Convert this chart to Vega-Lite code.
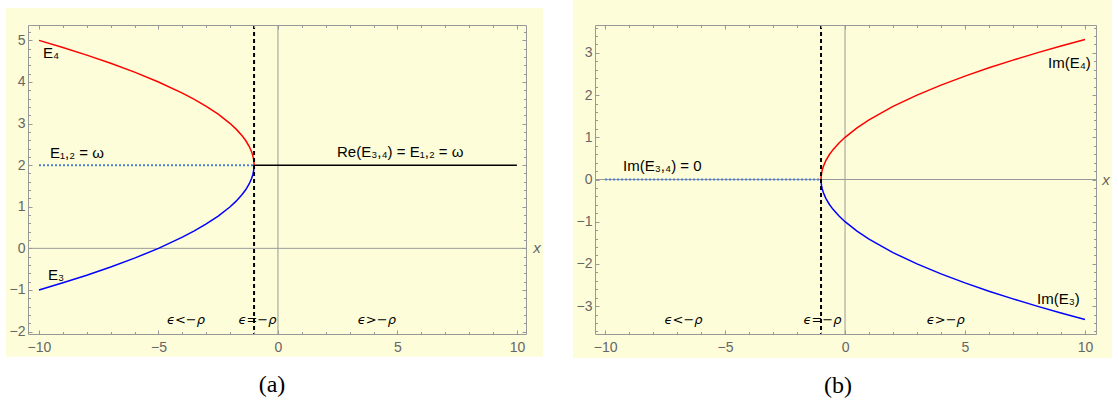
{
  "$schema": "https://vega.github.io/schema/vega-lite/v6.json",
  "background": "white",
  "padding": {"left": 6, "top": 0, "right": 0, "bottom": 0},
  "bounds": "flush",
  "spacing": 69,
  "config": {
    "view": {"stroke": null},
    "axis": {"domainColor": "#999999", "tickColor": "#999999", "labelColor": "#666666", "labelFont": "Liberation Sans", "labelFontSize": 14, "grid": false, "labelOverlap": false, "labelFlush": false, "labelBound": false},
    "text": {"font": "Liberation Sans"}
  },
  "datasets": {
    "one": [{}],
    "aE4": [{"x":-10,"y":5},{"x":-9,"y":4.828},{"x":-8,"y":4.646},{"x":-7,"y":4.449},{"x":-6,"y":4.236},{"x":-5,"y":4},{"x":-4,"y":3.732},{"x":-3.5,"y":3.581},{"x":-3,"y":3.414},{"x":-2.5,"y":3.225},{"x":-2,"y":3},{"x":-1.75,"y":2.866},{"x":-1.5,"y":2.707},{"x":-1.35,"y":2.592},{"x":-1.2,"y":2.447},{"x":-1.1,"y":2.316},{"x":-1.05,"y":2.224},{"x":-1.02,"y":2.141},{"x":-1.005,"y":2.071},{"x":-1,"y":2}],
    "aE3": [{"x":-10,"y":-1},{"x":-9,"y":-0.828},{"x":-8,"y":-0.646},{"x":-7,"y":-0.449},{"x":-6,"y":-0.236},{"x":-5,"y":0},{"x":-4,"y":0.268},{"x":-3.5,"y":0.419},{"x":-3,"y":0.586},{"x":-2.5,"y":0.775},{"x":-2,"y":1},{"x":-1.75,"y":1.134},{"x":-1.5,"y":1.293},{"x":-1.35,"y":1.408},{"x":-1.2,"y":1.553},{"x":-1.1,"y":1.684},{"x":-1.05,"y":1.776},{"x":-1.02,"y":1.859},{"x":-1.005,"y":1.929},{"x":-1,"y":2}],
    "aDot": [{"x":-10,"y":2},{"x":-1,"y":2}],
    "aRe": [{"x":-1,"y":2},{"x":10,"y":2}],
    "aLab": [{"x":-9.83,"y":4.69,"t":"E₄"},{"x":-9.54,"y":2.29,"t":"E₁,₂ = ω"},{"x":2.47,"y":2.31,"t":"Re(E₃,₄) = E₁,₂ = ω"},{"x":-9.62,"y":-0.64,"t":"E₃"}],
    "aEps": [{"x":-3.85,"y":-1.72,"t":"ϵ<−ρ"},{"x":-0.86,"y":-1.72,"t":"ϵ=−ρ"},{"x":4.14,"y":-1.72,"t":"ϵ>−ρ"}],
    "bE4": [{"x":-1,"y":0},{"x":-0.995,"y":0.071},{"x":-0.98,"y":0.141},{"x":-0.95,"y":0.224},{"x":-0.9,"y":0.316},{"x":-0.8,"y":0.447},{"x":-0.65,"y":0.592},{"x":-0.5,"y":0.707},{"x":-0.25,"y":0.866},{"x":0,"y":1},{"x":0.5,"y":1.225},{"x":1,"y":1.414},{"x":2,"y":1.732},{"x":3,"y":2},{"x":4,"y":2.236},{"x":5,"y":2.449},{"x":6,"y":2.646},{"x":7,"y":2.828},{"x":8,"y":3},{"x":9,"y":3.162},{"x":10,"y":3.317}],
    "bE3": [{"x":-1,"y":0},{"x":-0.995,"y":-0.071},{"x":-0.98,"y":-0.141},{"x":-0.95,"y":-0.224},{"x":-0.9,"y":-0.316},{"x":-0.8,"y":-0.447},{"x":-0.65,"y":-0.592},{"x":-0.5,"y":-0.707},{"x":-0.25,"y":-0.866},{"x":0,"y":-1},{"x":0.5,"y":-1.225},{"x":1,"y":-1.414},{"x":2,"y":-1.732},{"x":3,"y":-2},{"x":4,"y":-2.236},{"x":5,"y":-2.449},{"x":6,"y":-2.646},{"x":7,"y":-2.828},{"x":8,"y":-3},{"x":9,"y":-3.162},{"x":10,"y":-3.317}],
    "bDot": [{"x":-10,"y":0},{"x":-1,"y":0}],
    "bLab": [{"x":-9.25,"y":0.33,"t":"Im(E₃,₄) = 0"},{"x":8.46,"y":2.77,"t":"Im(E₄)"},{"x":8.0,"y":-2.84,"t":"Im(E₃)"}],
    "bEps": [{"x":-6.73,"y":-3.32,"t":"ϵ<−ρ"},{"x":-0.94,"y":-3.32,"t":"ϵ=−ρ"},{"x":4.2,"y":-3.32,"t":"ϵ>−ρ"}]
  },
  "hconcat": [
    {
      "width": 498,
      "height": 309,
      "title": {"text": "(a)", "orient": "bottom", "anchor": "middle", "frame": "bounds", "font": "Liberation Serif", "fontSize": 24, "fontWeight": "normal", "color": "#000000", "offset": 16, "dx": -2.5},
      "resolve": {"axis": {"x": "independent", "y": "independent"}},
      "layer": [
        {
          "data": {"name": "one"},
          "mark": {"type": "rect", "fill": "#FEFDD9"},
          "encoding": {
            "x": {"datum": -11.38, "type": "quantitative", "scale": {"domain": [-10.46, 10.38], "nice": false, "zero": false}, "axis": null},
            "x2": {"datum": 11.09},
            "y": {"datum": 5.78, "type": "quantitative", "scale": {"domain": [-2.06, 5.37], "nice": false, "zero": false}, "axis": null},
            "y2": {"datum": -2.61}
          }
        },
        {
          "data": {"name": "one"},
          "mark": {"type": "rule", "color": "#999999", "strokeWidth": 1},
          "encoding": {"x": {"datum": 0, "type": "quantitative", "scale": {"domain": [-10.46, 10.38], "nice": false, "zero": false}, "axis": null}}
        },
        {
          "data": {"name": "one"},
          "mark": {"type": "rule", "color": "#999999", "strokeWidth": 1},
          "encoding": {"y": {"datum": 0, "type": "quantitative", "scale": {"domain": [-2.06, 5.37], "nice": false, "zero": false}, "axis": null}}
        },
        {
          "data": {"name": "aDot"},
          "mark": {"type": "line", "color": "#4f7fd4", "strokeWidth": 2, "strokeDash": [2, 2]},
          "encoding": {
            "x": {"field": "x", "type": "quantitative", "scale": {"domain": [-10.46, 10.38], "nice": false, "zero": false}, "axis": {"orient": "top", "values": [-10, -5, 0, 5, 10], "tickSize": -4, "labels": false, "domain": true, "title": null, "zindex": 1}},
            "y": {"field": "y", "type": "quantitative", "scale": {"domain": [-2.06, 5.37], "nice": false, "zero": false}, "axis": {"orient": "right", "values": [-2, -1, 0, 1, 2, 3, 4, 5], "tickSize": -4, "labels": false, "domain": true, "title": null, "zindex": 1}}
          }
        },
        {
          "data": {"name": "aRe"},
          "mark": {"type": "line", "color": "#000000", "strokeWidth": 1.5},
          "encoding": {
            "x": {"field": "x", "type": "quantitative", "scale": {"domain": [-10.46, 10.38], "nice": false, "zero": false}, "axis": {"orient": "top", "values": [-10, -9, -8, -7, -6, -5, -4, -3, -2, -1, 0, 1, 2, 3, 4, 5, 6, 7, 8, 9, 10], "tickSize": -2.5, "labels": false, "domain": false, "title": null, "zindex": 1}},
            "y": {"field": "y", "type": "quantitative", "scale": {"domain": [-2.06, 5.37], "nice": false, "zero": false}, "axis": {"orient": "right", "values": [-2, -1.8, -1.6, -1.4, -1.2, -1, -0.8, -0.6, -0.4, -0.2, 0, 0.2, 0.4, 0.6, 0.8, 1, 1.2, 1.4, 1.6, 1.8, 2, 2.2, 2.4, 2.6, 2.8, 3, 3.2, 3.4, 3.6, 3.8, 4, 4.2, 4.4, 4.6, 4.8, 5, 5.2], "tickSize": -2.5, "labels": false, "domain": false, "title": null, "zindex": 1}}
          }
        },
        {
          "data": {"name": "aE4"},
          "mark": {"type": "line", "color": "#ff0000", "strokeWidth": 1.5},
          "encoding": {
            "x": {"field": "x", "type": "quantitative", "scale": {"domain": [-10.46, 10.38], "nice": false, "zero": false}, "axis": {"orient": "bottom", "values": [-10, -5, 0, 5, 10], "tickSize": -4, "labelPadding": 10, "domain": true, "title": null, "zindex": 1}},
            "y": {"field": "y", "type": "quantitative", "scale": {"domain": [-2.06, 5.37], "nice": false, "zero": false}, "axis": {"orient": "left", "values": [-2, -1, 0, 1, 2, 3, 4, 5], "tickSize": -4, "labelPadding": 7, "domain": true, "title": null, "zindex": 1}}
          }
        },
        {
          "data": {"name": "aE3"},
          "mark": {"type": "line", "color": "#0000ff", "strokeWidth": 1.5},
          "encoding": {
            "x": {"field": "x", "type": "quantitative", "scale": {"domain": [-10.46, 10.38], "nice": false, "zero": false}, "axis": {"orient": "bottom", "values": [-10, -9, -8, -7, -6, -5, -4, -3, -2, -1, 0, 1, 2, 3, 4, 5, 6, 7, 8, 9, 10], "tickSize": -2.5, "labels": false, "domain": false, "title": null, "zindex": 1}},
            "y": {"field": "y", "type": "quantitative", "scale": {"domain": [-2.06, 5.37], "nice": false, "zero": false}, "axis": {"orient": "left", "values": [-2, -1.8, -1.6, -1.4, -1.2, -1, -0.8, -0.6, -0.4, -0.2, 0, 0.2, 0.4, 0.6, 0.8, 1, 1.2, 1.4, 1.6, 1.8, 2, 2.2, 2.4, 2.6, 2.8, 3, 3.2, 3.4, 3.6, 3.8, 4, 4.2, 4.4, 4.6, 4.8, 5, 5.2], "tickSize": -2.5, "labels": false, "domain": false, "title": null, "zindex": 1}}
          }
        },
        {
          "data": {"name": "aLab"},
          "mark": {"type": "text", "align": "left", "baseline": "middle", "fontSize": 15, "color": "#000000"},
          "encoding": {
            "x": {"field": "x", "type": "quantitative", "scale": {"domain": [-10.46, 10.38], "nice": false, "zero": false}, "axis": null},
            "y": {"field": "y", "type": "quantitative", "scale": {"domain": [-2.06, 5.37], "nice": false, "zero": false}, "axis": null},
            "text": {"field": "t"}
          }
        },
        {
          "data": {"name": "aEps"},
          "mark": {"type": "text", "align": "center", "baseline": "middle", "fontSize": 13, "fontStyle": "italic", "font": "DejaVu Sans", "color": "#000000"},
          "encoding": {
            "x": {"field": "x", "type": "quantitative", "scale": {"domain": [-10.46, 10.38], "nice": false, "zero": false}, "axis": null},
            "y": {"field": "y", "type": "quantitative", "scale": {"domain": [-2.06, 5.37], "nice": false, "zero": false}, "axis": null},
            "text": {"field": "t"}
          }
        },
        {
          "data": {"name": "one"},
          "mark": {"type": "rule", "color": "#000000", "strokeWidth": 2, "strokeDash": [4, 3]},
          "encoding": {"x": {"datum": -1, "type": "quantitative", "scale": {"domain": [-10.46, 10.38], "nice": false, "zero": false}, "axis": null}}
        },
        {
          "data": {"name": "one"},
          "mark": {"type": "text", "text": "x", "align": "center", "baseline": "middle", "fontSize": 15, "fontStyle": "italic", "color": "#666666"},
          "encoding": {
            "x": {"datum": 10.84, "type": "quantitative", "scale": {"domain": [-10.46, 10.38], "nice": false, "zero": false}, "axis": null},
            "y": {"datum": 0, "type": "quantitative", "scale": {"domain": [-2.06, 5.37], "nice": false, "zero": false}, "axis": null}
          }
        }
      ]
    },
    {
      "width": 501,
      "height": 309,
      "title": {"text": "(b)", "orient": "bottom", "anchor": "middle", "frame": "bounds", "font": "Liberation Serif", "fontSize": 24, "fontWeight": "normal", "color": "#000000", "offset": 16, "dx": -4.5},
      "resolve": {"axis": {"x": "independent", "y": "independent"}},
      "layer": [
        {
          "data": {"name": "one"},
          "mark": {"type": "rect", "fill": "#FEFDD9"},
          "encoding": {
            "x": {"datum": -11.34, "type": "quantitative", "scale": {"domain": [-10.42, 10.46], "nice": false, "zero": false}, "axis": null},
            "x2": {"datum": 11.13},
            "y": {"datum": 4.25, "type": "quantitative", "scale": {"domain": [-3.66, 3.66], "nice": false, "zero": false}, "axis": null},
            "y2": {"datum": -4.23}
          }
        },
        {
          "data": {"name": "one"},
          "mark": {"type": "rule", "color": "#999999", "strokeWidth": 1},
          "encoding": {"x": {"datum": 0, "type": "quantitative", "scale": {"domain": [-10.42, 10.46], "nice": false, "zero": false}, "axis": null}}
        },
        {
          "data": {"name": "one"},
          "mark": {"type": "rule", "color": "#999999", "strokeWidth": 1},
          "encoding": {"y": {"datum": 0, "type": "quantitative", "scale": {"domain": [-3.66, 3.66], "nice": false, "zero": false}, "axis": null}}
        },
        {
          "data": {"name": "bDot"},
          "mark": {"type": "line", "color": "#4f7fd4", "strokeWidth": 2, "strokeDash": [2, 2]},
          "encoding": {
            "x": {"field": "x", "type": "quantitative", "scale": {"domain": [-10.42, 10.46], "nice": false, "zero": false}, "axis": {"orient": "top", "values": [-10, -5, 0, 5, 10], "tickSize": -4, "labels": false, "domain": true, "title": null, "zindex": 1}},
            "y": {"field": "y", "type": "quantitative", "scale": {"domain": [-3.66, 3.66], "nice": false, "zero": false}, "axis": {"orient": "right", "values": [-3, -2, -1, 0, 1, 2, 3], "tickSize": -4, "labels": false, "domain": true, "title": null, "zindex": 1}}
          }
        },
        {
          "data": {"name": "bE4"},
          "mark": {"type": "line", "color": "#ff0000", "strokeWidth": 1.5},
          "encoding": {
            "x": {"field": "x", "type": "quantitative", "scale": {"domain": [-10.42, 10.46], "nice": false, "zero": false}, "axis": {"orient": "bottom", "values": [-10, -5, 0, 5, 10], "tickSize": -4, "labelPadding": 10, "domain": true, "title": null, "zindex": 1}},
            "y": {"field": "y", "type": "quantitative", "scale": {"domain": [-3.66, 3.66], "nice": false, "zero": false}, "axis": {"orient": "left", "values": [-3, -2, -1, 0, 1, 2, 3], "tickSize": -4, "labelPadding": 7, "domain": true, "title": null, "zindex": 1}}
          }
        },
        {
          "data": {"name": "bE3"},
          "mark": {"type": "line", "color": "#0000ff", "strokeWidth": 1.5},
          "encoding": {
            "x": {"field": "x", "type": "quantitative", "scale": {"domain": [-10.42, 10.46], "nice": false, "zero": false}, "axis": {"orient": "bottom", "values": [-10, -9, -8, -7, -6, -5, -4, -3, -2, -1, 0, 1, 2, 3, 4, 5, 6, 7, 8, 9, 10], "tickSize": -2.5, "labels": false, "domain": false, "title": null, "zindex": 1}},
            "y": {"field": "y", "type": "quantitative", "scale": {"domain": [-3.66, 3.66], "nice": false, "zero": false}, "axis": {"orient": "left", "values": [-3.6, -3.4, -3.2, -3, -2.8, -2.6, -2.4, -2.2, -2, -1.8, -1.6, -1.4, -1.2, -1, -0.8, -0.6, -0.4, -0.2, 0, 0.2, 0.4, 0.6, 0.8, 1, 1.2, 1.4, 1.6, 1.8, 2, 2.2, 2.4, 2.6, 2.8, 3, 3.2, 3.4, 3.6], "tickSize": -2.5, "labels": false, "domain": false, "title": null, "zindex": 1}}
          }
        },
        {
          "data": {"name": "bLab"},
          "mark": {"type": "text", "align": "left", "baseline": "middle", "fontSize": 15, "color": "#000000"},
          "encoding": {
            "x": {"field": "x", "type": "quantitative", "scale": {"domain": [-10.42, 10.46], "nice": false, "zero": false}, "axis": {"orient": "top", "values": [-10, -9, -8, -7, -6, -5, -4, -3, -2, -1, 0, 1, 2, 3, 4, 5, 6, 7, 8, 9, 10], "tickSize": -2.5, "labels": false, "domain": false, "title": null, "zindex": 1}},
            "y": {"field": "y", "type": "quantitative", "scale": {"domain": [-3.66, 3.66], "nice": false, "zero": false}, "axis": {"orient": "right", "values": [-3.6, -3.4, -3.2, -3, -2.8, -2.6, -2.4, -2.2, -2, -1.8, -1.6, -1.4, -1.2, -1, -0.8, -0.6, -0.4, -0.2, 0, 0.2, 0.4, 0.6, 0.8, 1, 1.2, 1.4, 1.6, 1.8, 2, 2.2, 2.4, 2.6, 2.8, 3, 3.2, 3.4, 3.6], "tickSize": -2.5, "labels": false, "domain": false, "title": null, "zindex": 1}},
            "text": {"field": "t"}
          }
        },
        {
          "data": {"name": "bEps"},
          "mark": {"type": "text", "align": "center", "baseline": "middle", "fontSize": 13, "fontStyle": "italic", "font": "DejaVu Sans", "color": "#000000"},
          "encoding": {
            "x": {"field": "x", "type": "quantitative", "scale": {"domain": [-10.42, 10.46], "nice": false, "zero": false}, "axis": null},
            "y": {"field": "y", "type": "quantitative", "scale": {"domain": [-3.66, 3.66], "nice": false, "zero": false}, "axis": null},
            "text": {"field": "t"}
          }
        },
        {
          "data": {"name": "one"},
          "mark": {"type": "rule", "color": "#000000", "strokeWidth": 2, "strokeDash": [4, 3]},
          "encoding": {"x": {"datum": -1, "type": "quantitative", "scale": {"domain": [-10.42, 10.46], "nice": false, "zero": false}, "axis": null}}
        },
        {
          "data": {"name": "one"},
          "mark": {"type": "text", "text": "x", "align": "center", "baseline": "middle", "fontSize": 15, "fontStyle": "italic", "color": "#666666"},
          "encoding": {
            "x": {"datum": 10.88, "type": "quantitative", "scale": {"domain": [-10.42, 10.46], "nice": false, "zero": false}, "axis": null},
            "y": {"datum": 0, "type": "quantitative", "scale": {"domain": [-3.66, 3.66], "nice": false, "zero": false}, "axis": null}
          }
        }
      ]
    }
  ]
}
